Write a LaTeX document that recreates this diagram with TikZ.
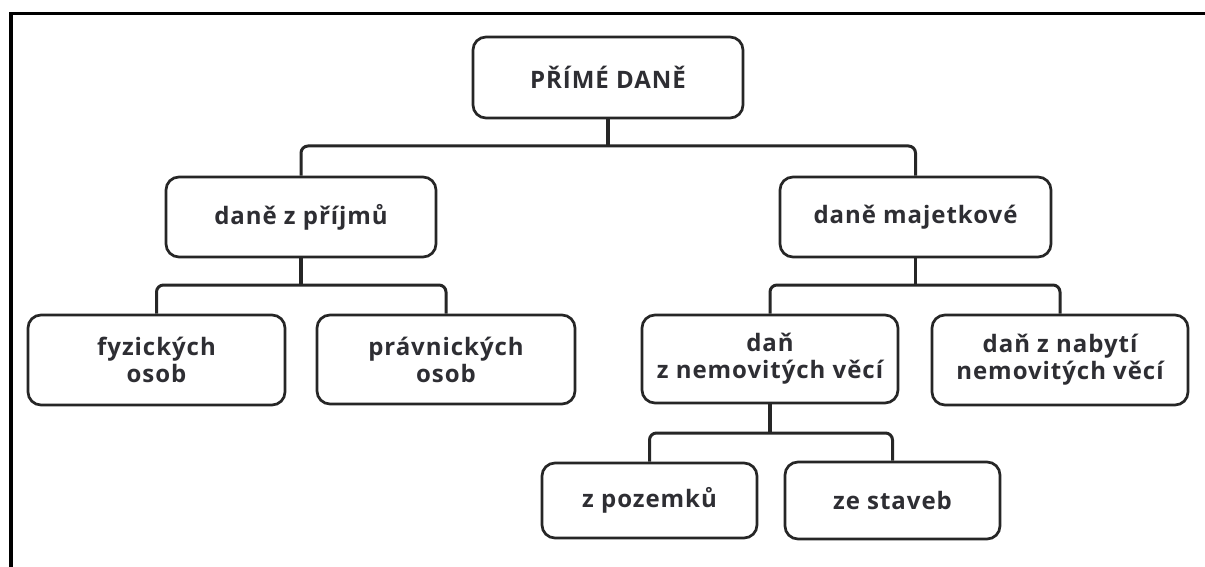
\documentclass[tikz,border=0pt]{standalone}
\usepackage{fontspec}
\setmainfont{Open Sans}[BoldFont={Open Sans Bold}, LetterSpace=4.0]
\definecolor{boxline}{HTML}{262626}
\definecolor{txt}{HTML}{2E2E33}
\begin{document}
\begin{tikzpicture}[x=1pt,y=1pt,
  box/.style={draw=boxline, line width=2.7pt, rounded corners=13pt, align=center,
    font=\fontsize{24}{27}\selectfont\bfseries, text=txt, inner sep=0pt},
  conn/.style={draw=boxline, line width=3pt, rounded corners=7pt},
  stem/.style={draw=boxline, line width=3.2pt}]
\useasboundingbox (0,0) rectangle (1205,-567);
\fill[white] (0,0) rectangle (1205,-567);
% frame (top and left only)
\draw[line width=3.5pt, black] (11,-567) -- (11,-13.5) -- (1205,-13.5);

\node[box, minimum width=270pt, minimum height=81pt] (top) at (608,-77.5) {PŘÍMÉ DANĚ};
\node[box, minimum width=270pt, minimum height=80pt] (a) at (301,-217) {daně z příjmů};
\node[box, minimum width=271pt, minimum height=80pt] (b) at (915.5,-217) {daně majetkové};
\node[box, minimum width=257pt, minimum height=90pt] (a1) at (156.5,-360) {fyzických\\osob};
\node[box, minimum width=258pt, minimum height=89pt] (a2) at (446,-359.5) {právnických\\osob};
\node[box, minimum width=256pt, minimum height=88pt] (b1) at (770,-359) {daň\\z nemovitých věcí};
\node[box, minimum width=256pt, minimum height=90pt] (b2) at (1060,-360) {daň z nabytí\\nemovitých věcí};
\node[box, minimum width=215pt, minimum height=75pt] (c1) at (649.5,-500.5) {z pozemků};
\node[box, minimum width=215pt, minimum height=77pt] (c2) at (892.5,-500.5) {ze staveb};

\coordinate (j0) at (608,-146);
\coordinate (ja) at (301,-285);
\coordinate (jb) at (915.5,-285);
\coordinate (jc) at (770,-433);

% level 1
\draw[stem, line width=4.5pt] (top.south) -- (top.south |- j0);
\draw[conn] (a.north) |- (j0) -| (b.north);
% level 2 left
\draw[stem] (a.south) -- (ja);
\draw[conn] (a1.north) |- (ja) -| (a2.north);
% level 2 right
\draw[stem] (b.south) -- (jb);
\draw[conn] (b1.north) |- (jb) -| (b2.north);
% level 3
\draw[stem] (b1.south) -- (jc);
\draw[conn] (c1.north) |- (jc) -| (c2.north);
\end{tikzpicture}
\end{document}
